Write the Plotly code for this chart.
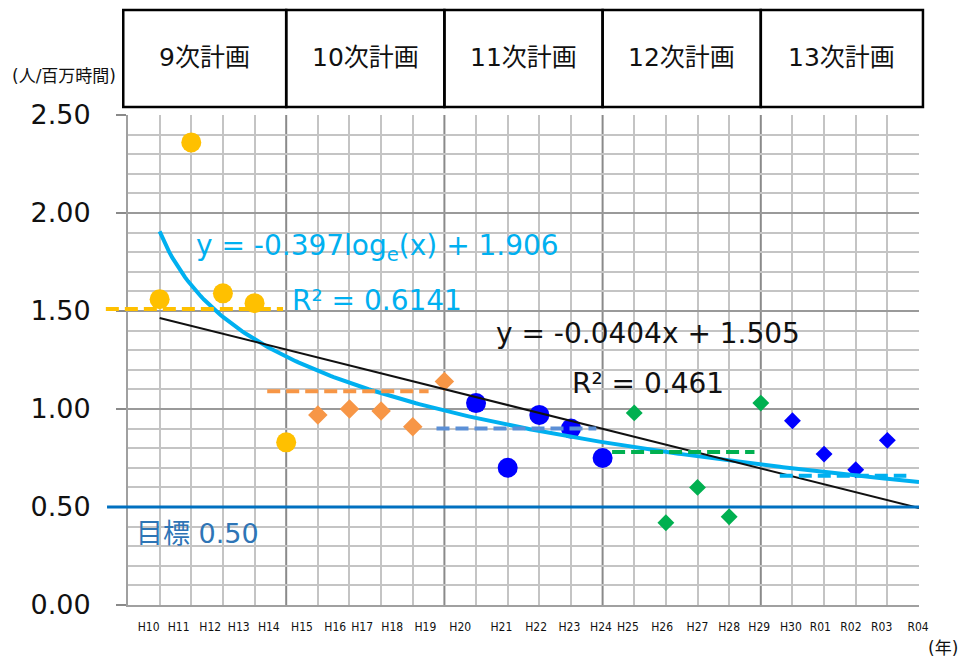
import math
import plotly.graph_objects as go

# ---- data -------------------------------------------------------------
years = ["H10", "H11", "H12", "H13", "H14", "H15", "H16", "H17", "H18", "H19",
         "H20", "H21", "H22", "H23", "H24", "H25", "H26", "H27", "H28", "H29",
         "H30", "R01", "R02", "R03", "R04"]

plan_names = ["9次計画", "10次計画", "11次計画", "12次計画", "13次計画"]
plan_years = [years[0:5], years[5:10], years[10:15], years[15:20], years[20:24]]

rates_9 = [1.56, 2.36, 1.59, 1.54, 0.83]
rates_10 = [0.97, 1.00, 0.99, 0.91, 1.14]
rates_11 = [1.03, 0.70, 0.97, 0.90, 0.75]
rates_12 = [0.98, 0.42, 0.60, 0.45, 1.03]
rates_13 = [0.94, 0.77, 0.69, 0.84]

plan_levels = [1.51, 1.09, 0.90, 0.78, 0.66]
target = 0.50

log_a, log_b, log_r2 = -0.397, 1.906, 0.6141
lin_a, lin_b, lin_r2 = -0.0404, 1.505, 0.461

# ---- styling ----------------------------------------------------------
FONT = "DejaVu Sans, Noto Sans CJK JP, sans-serif"
NARROW = "Liberation Sans Narrow, DejaVu Sans Condensed, Arial Narrow, sans-serif"
CYAN = "#00B0F0"
plan_styles = [
    dict(symbol="circle", color="#FFC000", size=20),
    dict(symbol="diamond", color="#F79646", size=15),
    dict(symbol="circle", color="#0000FF", size=20),
    dict(symbol="diamond", color="#00B050", size=13),
    dict(symbol="diamond", color="#0000FF", size=13),
]
dash_colors = ["#FFC000", "#F79646", "#5B8FD6", "#00B050", CYAN]
# horizontal extent (in x index units) of each plan's dashed level line
dash_spans = [(-1.7, 3.9), (3.4, 8.5), (8.75, 13.8), (14.3, 18.8), (19.6, 23.6)]
DASH = "13px,6px"

idx = {y: i for i, y in enumerate(years)}
plan_rates = [rates_9, rates_10, rates_11, rates_12, rates_13]
n = len(years)

fig = go.Figure()

# plan markers
for yrs, vals, st in zip(plan_years, plan_rates, plan_styles):
    fig.add_trace(go.Scatter(
        x=[idx[y] for y in yrs], y=vals, mode="markers",
        marker=dict(symbol=st["symbol"], color=st["color"], size=st["size"],
                    line=dict(width=0)),
        showlegend=False, hoverinfo="y"))

# trend lines (x counted 1..25 from H10)
xs = [i / 10 for i in range(0, (n - 1) * 10 + 1)]
fig.add_trace(go.Scatter(
    x=xs, y=[log_a * math.log(x + 1) + log_b for x in xs], mode="lines",
    line=dict(color=CYAN, width=4), showlegend=False, hoverinfo="skip"))
fig.add_trace(go.Scatter(
    x=[0, n - 1], y=[lin_a * 1 + lin_b, lin_a * n + lin_b], mode="lines",
    line=dict(color="#111111", width=2), showlegend=False, hoverinfo="skip"))

shapes = []
# darker verticals at plan boundaries
plan_ends = [idx[p[-1]] for p in plan_years[:4]]
for xb in plan_ends:
    shapes.append(dict(type="line", xref="x", yref="paper", x0=xb, x1=xb, y0=0, y1=1,
                       line=dict(color="#8A8A8A", width=2), layer="below"))

# plan level dashed lines
for k, (lvl, col, (a, b)) in enumerate(zip(plan_levels, dash_colors, dash_spans)):
    if k == 0:
        # first one runs out past the axis, so place it in paper space
        shapes.append(dict(type="line", xref="paper", yref="y",
                           x0=(a + 1) / n, x1=(b + 1) / n, y0=lvl, y1=lvl,
                           line=dict(color=col, width=4, dash=DASH)))
    else:
        shapes.append(dict(type="line", xref="x", yref="y", x0=a, x1=b, y0=lvl, y1=lvl,
                           line=dict(color=col, width=4, dash=DASH)))

# target line
shapes.append(dict(type="line", xref="paper", yref="y", x0=-0.0265, x1=1, y0=target, y1=target,
                   line=dict(color="#0070C0", width=3)))

# header boxes for each plan
edges = [-1] + plan_ends + [n - 1]
paper_edges = [(e + 1) / n for e in edges]
paper_edges[0] -= 0.006
paper_edges[-1] += 0.005
annotations = []
for k, name in enumerate(plan_names):
    shapes.append(dict(type="rect", xref="paper", yref="paper",
                       x0=paper_edges[k], x1=paper_edges[k + 1], y0=1.0163, y1=1.2143,
                       line=dict(color="#000000", width=2.5), fillcolor="rgba(0,0,0,0)"))
    annotations.append(dict(xref="paper", yref="paper",
                            x=(paper_edges[k] + paper_edges[k + 1]) / 2, y=1.118,
                            xanchor="center", yanchor="middle",
                            text=name, showarrow=False,
                            font=dict(family=FONT, size=25, color="#111111")))


def note(x, y, text, size, color, xref="x", yref="y", xanchor="center"):
    return dict(xref=xref, yref=yref, x=x, y=y, text=text, showarrow=False,
                xanchor=xanchor, yanchor="middle",
                font=dict(family=FONT, size=size, color=color))


# equation labels and other notes
annotations += [
    note(6.87, 1.823, f"y = {log_a}log<sub>e</sub>(x) + {log_b}", 28, CYAN),
    note(6.87, 1.553, f"R² = {log_r2}", 28, CYAN),
    note(15.44, 1.385, f"y = {lin_a}x + {lin_b}", 28, "#111111"),
    note(15.44, 1.130, f"R² = {lin_r2}", 28, "#111111"),
    note(-0.8, 0.367, f"目標 {target:.2f}", 27, "#2E75B6", xanchor="left"),
    note(-0.081, 1.0796, "(人/百万時間)", 17, "#111111", xref="paper", yref="paper"),
    note(1.030, -0.0878, "(年)", 17, "#111111", xref="paper", yref="paper"),
]

# tick label nudges (x index units)
label_shift = [-0.35, -0.4, -0.4, -0.5, -0.55, -0.5, -0.45, -0.6, -0.65, -0.6,
               -0.5, -0.2, -0.1, -0.05, -0.05, -0.2, -0.12, 0, 0, -0.05,
               -0.05, -0.12, -0.15, -0.18, -0.03]

fig.update_layout(
    width=960, height=659,
    margin=dict(l=128, r=41, t=115, b=54),
    paper_bgcolor="white", plot_bgcolor="white",
    shapes=shapes, annotations=annotations,
    xaxis=dict(
        range=[-1, n - 1],
        tickmode="array",
        tickvals=[i + s for i, s in zip(range(n), label_shift)],
        ticktext=years,
        tickfont=dict(family=NARROW, size=12, color="#111111"),
        ticks="", ticklabelstandoff=10,
        showgrid=False, zeroline=False,
        showline=True, linecolor="#A0A0A0", linewidth=2,
        minor=dict(tickmode="array",
                   tickvals=[i for i in range(0, n - 1) if i not in plan_ends],
                   showgrid=True, gridcolor="#C4C4C4", gridwidth=1.5, ticks=""),
    ),
    yaxis=dict(
        range=[0, 2.5], dtick=0.5, tickformat=".2f",
        tickfont=dict(family=FONT, size=27, color="#111111"),
        ticks="outside", ticklen=10, tickcolor="#8A8A8A", tickwidth=2,
        ticklabelstandoff=20,
        showgrid=True, gridcolor="#9A9A9A", gridwidth=2,
        zeroline=False,
        showline=True, linecolor="#A0A0A0", linewidth=2,
        minor=dict(dtick=0.1, showgrid=True, gridcolor="#C4C4C4", gridwidth=1.5, ticks=""),
    ),
)

fig.write_html("out.html")
